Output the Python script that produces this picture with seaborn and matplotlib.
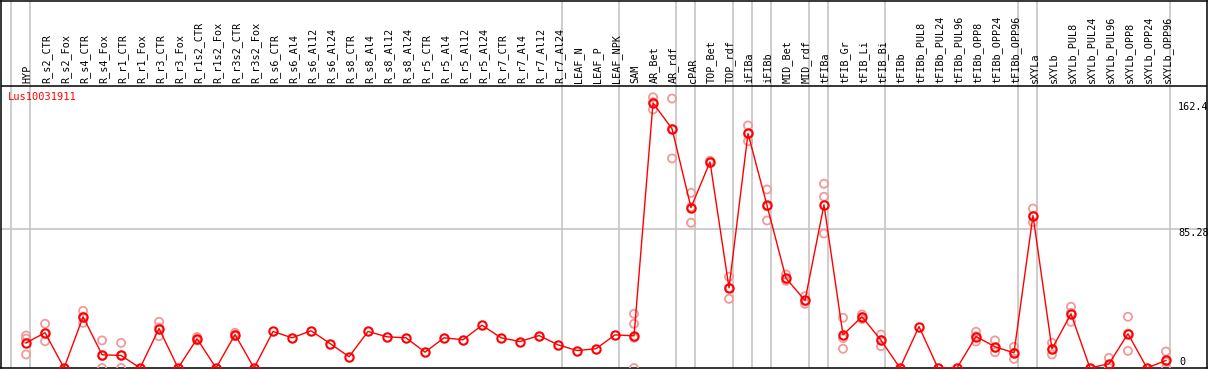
import numpy as np
import pandas as pd
import seaborn as sns
import matplotlib.pyplot as plt

gene = "Lus10031911"

samples = ["HYP", "R_s2_CTR", "R_s2_Fox", "R_s4_CTR", "R_s4_Fox", "R_r1_CTR", "R_r1_Fox",
           "R_r3_CTR", "R_r3_Fox", "R_r1s2_CTR", "R_r1s2_Fox", "R_r3s2_CTR", "R_r3s2_Fox",
           "R_s6_CTR", "R_s6_Al4", "R_s6_Al12", "R_s6_Al24", "R_s8_CTR", "R_s8_Al4",
           "R_s8_Al12", "R_s8_Al24", "R_r5_CTR", "R_r5_Al4", "R_r5_Al12", "R_r5_Al24",
           "R_r7_CTR", "R_r7_Al4", "R_r7_Al12", "R_r7_Al24", "LEAF_N", "LEAF_P", "LEAF_NPK",
           "SAM", "AR_Bet", "AR_rdf", "cPAR", "TOP_Bet", "TOP_rdf", "iFIBa", "iFIBb",
           "MID_Bet", "MID_rdf", "tFIBa", "tFIB_Gr", "tFIB_Li", "tFIB_Bi", "tFIBb",
           "tFIBb_PUL8", "tFIBb_PUL24", "tFIBb_PUL96", "tFIBb_OPP8", "tFIBb_OPP24",
           "tFIBb_OPP96", "sXYLa", "sXYLb", "sXYLb_PUL8", "sXYLb_PUL24", "sXYLb_PUL96",
           "sXYLb_OPP8", "sXYLb_OPP24", "sXYLb_OPP96"]

means = [15.4, 21.6, 0, 31.4, 8.1, 7.7, 0, 24.2, 0, 17.9, 0, 20.5, 0,
         22.4, 18.5, 22.8, 15.0, 6.9, 22.4, 19.1, 18.5, 9.7, 18.5, 17.3, 26.2,
         18.5, 16.2, 19.9, 14.2, 10.7, 11.8, 20.3,
         19.7, 162.4, 146.6, 98.3, 126.3, 49.1, 143.7, 99.6,
         55.0, 41.4, 100.0, 20.3, 31.4, 17.0, 0,
         25.4, 0, 0, 19.3, 13.0, 9.3,
         93.4, 11.7, 33.2, 0, 2.6, 21.0, 0, 4.6]

# replicate values (sample name -> values)
replicates = {
    "HYP": [19.9, 8.3, 18.0],
    "R_s2_CTR": [27.1, 16.4, 21.3],
    "R_s4_CTR": [35.0, 27.7, 31.5],
    "R_s4_Fox": [16.9, 0, 7.4],
    "R_r1_CTR": [15.4, 0, 7.7],
    "R_r3_CTR": [28.3, 19.5, 24.8],
    "R_r1s2_CTR": [16.9, 19.0, 17.8],
    "R_r3s2_CTR": [19.5, 21.6, 20.4],
    "SAM": [33.2, 27.1, 18.5, 0],
    "AR_Bet": [165.9, 158.4, 162.9],
    "AR_rdf": [165.1, 128.4, 146.3],
    "cPAR": [107.3, 89.0, 98.6],
    "TOP_Bet": [125.6, 127.0],
    "TOP_rdf": [55.9, 42.4, 49.0],
    "iFIBa": [148.6, 139.0, 143.5],
    "iFIBb": [109.4, 90.4, 99.0],
    "MID_Bet": [57.3, 53.4, 54.3],
    "MID_rdf": [44.0, 39.3, 40.9],
    "tFIBa": [112.9, 104.9, 82.4],
    "tFIB_Gr": [30.8, 11.8, 18.3],
    "tFIB_Li": [32.8, 30.0, 31.4],
    "tFIB_Bi": [20.5, 13.4, 17.1],
    "tFIBb_OPP8": [22.2, 16.2, 19.5],
    "tFIBb_OPP24": [16.9, 9.7, 12.4],
    "tFIBb_OPP96": [13.0, 5.6, 9.3],
    "sXYLa": [97.7, 93.2, 89.3],
    "sXYLb": [15.4, 8.3, 11.4],
    "sXYLb_PUL8": [37.5, 28.3, 33.8],
    "sXYLb_PUL96": [6.2, 0, 1.6],
    "sXYLb_OPP8": [31.4, 10.5, 21.1],
    "sXYLb_OPP96": [10.1, 0, 3.7],
}

# group separators drawn just right of these sample indices
separators = [-1, 0, 28, 31, 34, 35, 37, 38, 39, 41, 42, 45, 52, 53, 60]

y_ticks = [162.4, 85.28]

pos = np.arange(len(samples))
df_mean = pd.DataFrame({"pos": pos, "value": means})
rep_rows = [(samples.index(k), v) for k, vals in replicates.items() for v in vals]
df_rep = pd.DataFrame(rep_rows, columns=["pos", "value"])

# figure with pixel-matched geometry: 1209 x 370
fig = plt.figure(figsize=(12.09, 3.70), dpi=100)
ax = fig.add_axes([1 / 1209, 2 / 370, 1206 / 1209, 367.5 / 370])

px = 1.632  # pixels per unit
ymax = 367.5 / px
divider = (368 - 86) / px
ax.set_xlim(-1.32, 62.16)
ax.set_ylim(0, ymax)

sns.scatterplot(data=df_rep, x="pos", y="value", ax=ax, marker="o", s=34,
                facecolors="none", edgecolor="#f09a9a", linewidth=1.3, zorder=3)
sns.lineplot(data=df_mean, x="pos", y="value", ax=ax, color="red", linewidth=1.0,
             marker="o", markersize=6.0, markerfacecolor="none",
             markeredgecolor="red", markeredgewidth=1.5, zorder=4)

for s in separators:
    ax.axvline(s + 0.22, color="#c0c0c0", linewidth=1.1, zorder=1)
ax.axhline(85.28, color="#c0c0c0", linewidth=1.1, zorder=1)
ax.axhline(divider, color="black", linewidth=1.1, zorder=5)

for i, name in enumerate(samples):
    ax.text(i + 0.08, divider + 1.8, name, rotation=90, ha="center", va="bottom",
            fontsize=7.3, family="DejaVu Sans Mono", color="black")

for t in y_ticks:
    ax.text(60.63, t + 0.8, f"{t:g}", ha="left", va="top", fontsize=7.3,
            family="DejaVu Sans Mono", color="black")
ax.text(60.68, 0.6, "0", ha="left", va="bottom", fontsize=7.3,
        family="DejaVu Sans Mono", color="black")

ax.text(-0.95, divider - 6.8, gene, ha="left", va="center", fontsize=7.5,
        family="DejaVu Sans Mono", color="red")

ax.set_xticks([])
ax.set_yticks([])
ax.set_xlabel("")
ax.set_ylabel("")
for sp in ax.spines.values():
    sp.set_color("black")
    sp.set_linewidth(1.1)

fig.savefig("out.png", dpi=100)
